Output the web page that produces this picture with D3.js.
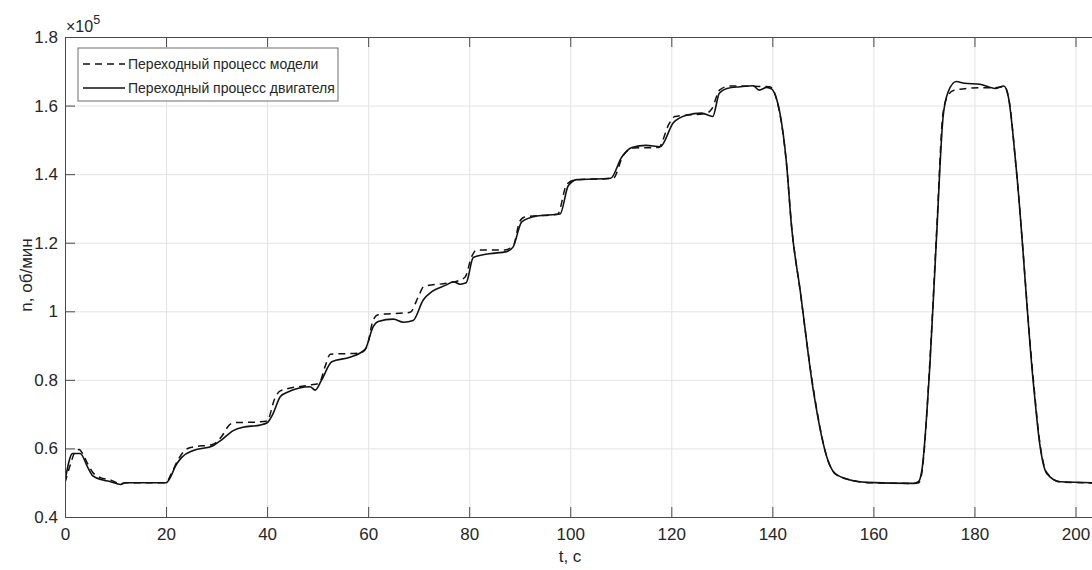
<!DOCTYPE html>
<html>
<head>
<meta charset="utf-8">
<script src="https://cdn.jsdelivr.net/npm/d3@7/dist/d3.min.js"></script>
<style>
  body { margin: 0; background: #fff; }
  svg { display: block; font-family: "Liberation Sans", Arial, sans-serif; }
  .axis text { fill: #262626; font-size: 17px; font-family: "Liberation Sans", Arial, sans-serif; }
  .axis path, .axis line { stroke: #4a4a4a; }
  .grid line { stroke: #e3e3e3; }
  .grid path { display: none; }
  .grid text { display: none; }
</style>
</head>
<body>
<div id="chart"></div>
<script>
// Model transient (dashed), n in units of 1e5 rpm
const tModel = [0, 1, 2, 2.8, 3.5, 4.5, 5.5, 7, 9, 11, 12, 20, 21, 22.5, 23.7, 25, 29.3, 31, 32.5, 33.5, 38, 40,
    41.5, 42.6, 48.5, 50.3, 51.5, 52.5, 58.4, 59.7, 61, 62, 68.3, 70, 71, 75.5, 78, 79.2, 80.5, 81.5, 87, 88.7,
    90, 91, 97.5, 99.3, 101, 108.5, 110.5, 112.5, 117.5, 119.5, 120.7, 127, 128, 129.6, 131.6, 139.5, 140.9,
    142.8, 143.8, 145.5, 148.1, 151, 152.5, 155.5, 159, 168, 169, 169.6, 171.2, 172.5, 173.8, 174.8, 176, 181,
    184, 186, 186.8, 188.3, 191.6, 193, 194.3, 197, 210];
const nModel = [0.50, 0.55, 0.59, 0.597, 0.585, 0.555, 0.53, 0.515, 0.508, 0.497, 0.5, 0.5, 0.525, 0.57, 0.594,
    0.603, 0.612, 0.635, 0.668, 0.675, 0.677, 0.68, 0.745, 0.768, 0.785, 0.79, 0.84, 0.875, 0.878, 0.895, 0.975,
    0.99, 0.997, 1.045, 1.072, 1.082, 1.09, 1.10, 1.16, 1.179, 1.179, 1.19, 1.262, 1.275, 1.283, 1.37, 1.383,
    1.388, 1.455, 1.476, 1.478, 1.545, 1.568, 1.578, 1.59, 1.646, 1.657, 1.655, 1.615, 1.43, 1.25, 1.06, 0.775,
    0.565, 0.525, 0.508, 0.5, 0.498, 0.5, 0.53, 0.86, 1.23, 1.58, 1.63, 1.645, 1.652, 1.652, 1.655, 1.62, 1.41,
    0.81, 0.61, 0.53, 0.502, 0.498];

// Engine transient (solid)
const tEngine = [0, 1.5, 3, 4.5, 5.5, 7.5, 9, 11, 12, 15, 20, 21, 21.8, 23.1, 25.4, 29.3, 31, 33.3, 35.2, 38.6,
    40, 41.2, 42.6, 43.9, 48.5, 49.5, 50.8, 52.8, 56.4, 59.4, 61, 62, 65, 67, 68.9, 70.9, 72.6, 75.5, 76.9, 78.2,
    79.4, 80.8, 84, 87.4, 88.7, 90.4, 93.4, 98, 99.6, 101.3, 108, 110.2, 112.2, 115, 117.8, 120.4, 123, 126,
    128.2, 129.5, 131, 133.6, 136.2, 137.4, 138.9, 139.9, 140.9, 141.5, 142.8, 143.8, 145.5, 148.1, 151.1, 152.4,
    155.4, 158.7, 167.9, 168.9, 169.6, 171.2, 172.5, 173.8, 174.8, 176.4, 178, 181.1, 184.1, 185.8, 186.7, 188.3,
    191.6, 193, 194.3, 197, 210];
const nEngine = [0.505, 0.585, 0.585, 0.545, 0.52, 0.508, 0.503, 0.495, 0.5, 0.5, 0.5, 0.52, 0.547, 0.574, 0.594,
    0.608, 0.625, 0.652, 0.662, 0.668, 0.675, 0.702, 0.751, 0.763, 0.78, 0.77, 0.80, 0.853, 0.866, 0.889, 0.955,
    0.97, 0.977, 0.968, 0.973, 1.033, 1.057, 1.077, 1.086, 1.079, 1.083, 1.157, 1.168, 1.174, 1.188, 1.261, 1.278,
    1.284, 1.366, 1.384, 1.388, 1.45, 1.478, 1.484, 1.48, 1.55, 1.572, 1.578, 1.568, 1.636, 1.65, 1.655, 1.658,
    1.645, 1.653, 1.648, 1.616, 1.578, 1.432, 1.247, 1.062, 0.77, 0.561, 0.527, 0.508, 0.501, 0.498, 0.503,
    0.537, 0.848, 1.218, 1.568, 1.64, 1.67, 1.665, 1.662, 1.65, 1.657, 1.626, 1.412, 0.80, 0.605, 0.527, 0.503,
    0.498];

const xTicks = [0, 20, 40, 60, 80, 100, 120, 140, 160, 180, 200];
const yTicks = [0.4, 0.6, 0.8, 1.0, 1.2, 1.4, 1.6, 1.8];
const seriesNames = ["Переходный процесс модели", "Переходный процесс двигателя"];

class Chart {

    constructor(opts) {
        this.width = opts.width;
        this.height = opts.height;
        this.margin = { top: 37, left: 65, bottom: 53 };
        this.innerHeight = this.height - this.margin.top - this.margin.bottom;
        // x axis runs past the right edge of the window, like the picture
        this.innerWidth = 210 * 5.0525;

        this.svg = d3.select("#chart").append("svg")
            .attr("width", this.width)
            .attr("height", this.height);

        this.plot = this.svg.append("g")
            .attr("transform", `translate(${this.margin.left},${this.margin.top})`);

        this.createScales();
        this.addGrid();
        this.addLines();
        this.addAxes();
        this.addTitles();
        this.addLegend();
    }

    createScales() {
        this.xScale = d3.scaleLinear().domain([0, 210]).range([0, this.innerWidth]);
        this.yScale = d3.scaleLinear().domain([0.4, 1.8]).range([this.innerHeight, 0]);
    }

    addGrid() {
        this.plot.append("g").attr("class", "grid")
            .attr("transform", `translate(0,${this.innerHeight})`)
            .call(d3.axisBottom(this.xScale).tickValues(xTicks).tickSize(-this.innerHeight));

        this.plot.append("g").attr("class", "grid")
            .call(d3.axisLeft(this.yScale).tickValues(yTicks).tickSize(-this.innerWidth));
    }

    addLines() {
        this.plot.append("clipPath").attr("id", "clip")
            .append("rect")
            .attr("width", this.innerWidth)
            .attr("height", this.innerHeight);

        const line = d3.line()
            .x(d => this.xScale(d[0]))
            .y(d => this.yScale(d[1]))
            .curve(d3.curveMonotoneX);

        const g = this.plot.append("g").attr("clip-path", "url(#clip)");

        g.append("path")
            .attr("d", line(d3.zip(tEngine, nEngine)))
            .attr("fill", "none")
            .attr("stroke", "#111")
            .attr("stroke-width", 1.6);

        g.append("path")
            .attr("d", line(d3.zip(tModel, nModel)))
            .attr("fill", "none")
            .attr("stroke", "#111")
            .attr("stroke-width", 1.5)
            .attr("stroke-dasharray", "7,5");
    }

    addAxes() {
        const fmt = d => String(+d.toFixed(1));

        this.plot.append("g").attr("class", "axis")
            .attr("transform", `translate(0,${this.innerHeight})`)
            .call(d3.axisBottom(this.xScale).tickValues(xTicks).tickSize(-10).tickSizeOuter(0)
                .tickPadding(11).tickFormat(fmt));

        this.plot.append("g").attr("class", "axis")
            .call(d3.axisTop(this.xScale).tickValues(xTicks).tickSize(-10).tickSizeOuter(0)
                .tickFormat(""));

        this.plot.append("g").attr("class", "axis")
            .call(d3.axisLeft(this.yScale).tickValues(yTicks).tickSize(-10).tickSizeOuter(0)
                .tickPadding(7).tickFormat(fmt));
    }

    addTitles() {
        // x-axis title
        this.svg.append("text")
            .attr("x", 570)
            .attr("y", 562)
            .attr("text-anchor", "middle")
            .attr("fill", "#262626")
            .style("font-size", "17px")
            .text("t, c");

        // y-axis title
        this.svg.append("text")
            .attr("transform", "translate(32,275) rotate(-90)")
            .attr("text-anchor", "middle")
            .attr("fill", "#262626")
            .style("font-size", "17px")
            .text("n, об/мин");

        // exponent
        const exp = this.svg.append("text")
            .attr("x", 66)
            .attr("y", 32)
            .attr("fill", "#262626")
            .style("font-size", "16px");
        exp.append("tspan").text("×10");
        exp.append("tspan").attr("dy", -8).style("font-size", "12.5px").text("5");
    }

    addLegend() {
        const lg = this.svg.append("g").attr("transform", "translate(78,48)");

        lg.append("rect")
            .attr("width", 260)
            .attr("height", 53)
            .attr("fill", "#fff")
            .attr("stroke", "#6e6e6e")
            .attr("stroke-width", 1);

        seriesNames.forEach((name, i) => {
            const y = 16 + i * 24;
            lg.append("line")
                .attr("x1", 5).attr("x2", 47)
                .attr("y1", y).attr("y2", y)
                .attr("stroke", "#111")
                .attr("stroke-width", 1.4)
                .attr("stroke-dasharray", i === 0 ? "7,5" : null);
            lg.append("text")
                .attr("x", 50)
                .attr("y", y + 5)
                .attr("fill", "#262626")
                .style("font-size", "14px")
                .text(name);
        });
    }
}

new Chart({ width: 1092, height: 570 });
</script>
</body>
</html>
